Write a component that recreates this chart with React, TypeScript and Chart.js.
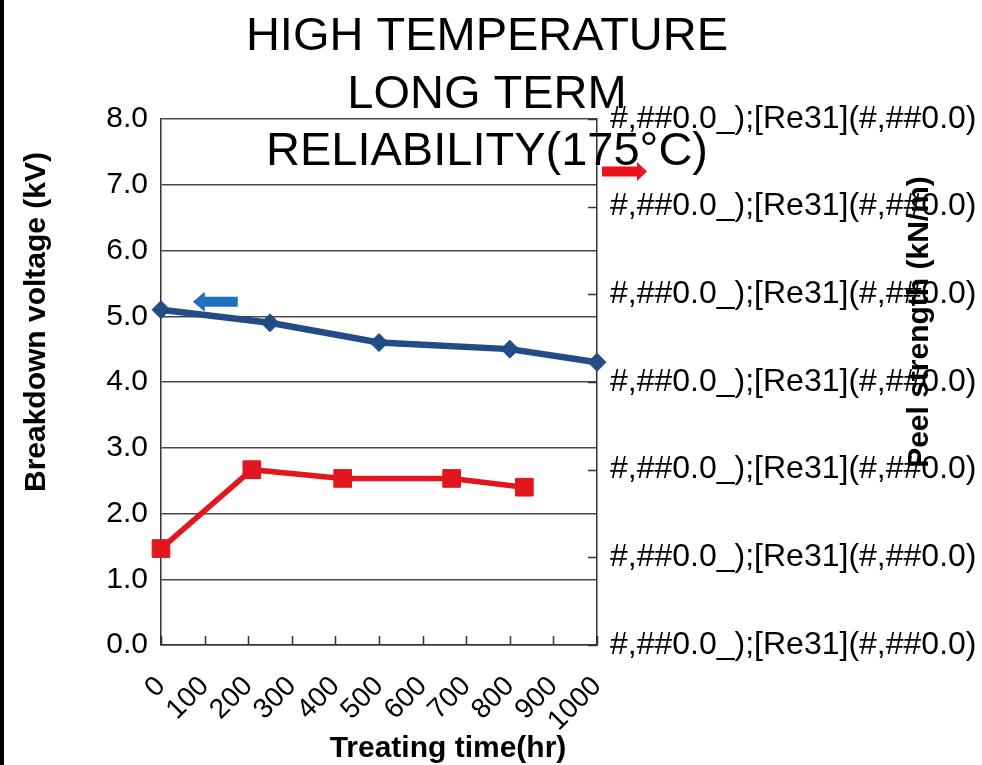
import { useEffect, useRef } from 'react';
import { Chart, registerables } from 'chart.js';

Chart.register(...registerables);

// Breakdown voltage vs. treating time (left axis)
const voltageHours = [0, 250, 500, 800, 1000];
const breakdownKV = [5.1, 4.9, 4.6, 4.5, 4.3];

// Peel strength vs. treating time (right axis, own hidden time axis)
const peelHours = [0, 250, 500, 800, 1000];
const peelKNm = [0.55, 1.0, 0.95, 0.95, 0.9];

const timeTicks = [0, 100, 200, 300, 400, 500, 600, 700, 800, 900, 1000];
const voltageTicks = [0, 1, 2, 3, 4, 5, 6, 7, 8];
const peelTickLabel = '#,##0.0_);[Re31](#,##0.0)';

const titleLines = ['HIGH TEMPERATURE', 'LONG TERM', 'RELIABILITY(175°C)'];
const voltageTitle = 'Breakdown voltage (kV)';
const peelTitle = 'Peel strength (kN/m)';
const timeTitle = 'Treating time(hr)';

const FONT = "'Liberation Sans', Arial, Helvetica, sans-serif";
const BLUE = '#224c86';
const RED = '#e3161e';

function arrow(ctx: CanvasRenderingContext2D, tipX: number, tailX: number, y: number, bodyHalf: number, headHalf: number, headLen: number, color: string) {
  const dir = tailX > tipX ? 1 : -1;
  const baseX = tipX + dir * headLen;
  ctx.beginPath();
  ctx.moveTo(tipX, y);
  ctx.lineTo(baseX, y - headHalf);
  ctx.lineTo(baseX, y - bodyHalf);
  ctx.lineTo(tailX, y - bodyHalf);
  ctx.lineTo(tailX, y + bodyHalf);
  ctx.lineTo(baseX, y + bodyHalf);
  ctx.lineTo(baseX, y + headHalf);
  ctx.closePath();
  ctx.fillStyle = color;
  ctx.fill();
}

const decorations = {
  id: 'decorations',
  beforeDraw(chart: any) {
    const { ctx, width, height } = chart;
    ctx.save();
    ctx.fillStyle = '#ffffff';
    ctx.fillRect(0, 0, width, height);
    ctx.fillStyle = '#000000';
    ctx.fillRect(0, 0, 4, height);
    ctx.restore();
  },
  afterDraw(chart: any) {
    const { ctx, chartArea: a, scales } = chart;
    ctx.save();

    // inward tick marks on the time axis and the peel-strength axis
    ctx.strokeStyle = '#333333';
    ctx.lineWidth = 1.5;
    ctx.beginPath();
    scales.x.ticks.forEach((t: any) => {
      const px = Math.round(scales.x.getPixelForValue(t.value)) + 0.5;
      ctx.moveTo(px, a.bottom);
      ctx.lineTo(px, a.bottom - 9);
    });
    scales.y2.ticks.forEach((t: any) => {
      const py = Math.round(scales.y2.getPixelForValue(t.value)) + 0.5;
      ctx.moveTo(a.right, py);
      ctx.lineTo(a.right - 9, py);
    });
    ctx.stroke();

    // series direction arrows
    const bx = scales.x;
    const by = scales.y;
    arrow(ctx, bx.getPixelForValue(73), bx.getPixelForValue(176), by.getPixelForValue(5.22), 5, 10, 12, '#1e6fc0');
    arrow(ctx, a.right + 50, a.right + 5, by.getPixelForValue(7.2), 5, 9.5, 10, '#e8131b');

    ctx.fillStyle = '#000000';

    // axis titles
    ctx.font = `bold 30px ${FONT}`;
    ctx.textBaseline = 'alphabetic';
    ctx.textAlign = 'center';
    const titleMidY = 322;

    ctx.save();
    ctx.translate(45, titleMidY);
    ctx.rotate(-Math.PI / 2);
    ctx.fillText(voltageTitle, 0, 0);
    ctx.restore();

    ctx.save();
    ctx.translate(928, titleMidY);
    ctx.rotate(-Math.PI / 2);
    ctx.fillText(peelTitle, 0, 0);
    ctx.restore();

    ctx.fillText(timeTitle, 448, 757);

    // chart title
    ctx.font = `47px ${FONT}`;
    titleLines.forEach((line, i) => {
      ctx.fillText(line, 487, 50 + i * 57.5);
    });

    ctx.restore();
  },
};

export default function App() {
  const canvasRef = useRef<HTMLCanvasElement | null>(null);

  useEffect(() => {
    const canvas = canvasRef.current;
    if (!canvas) return;

    const chart = new Chart(canvas, {
      type: 'line',
      data: {
        datasets: [
          {
            label: voltageTitle,
            data: voltageHours.map((h, i) => ({ x: h, y: breakdownKV[i] })),
            xAxisID: 'x',
            yAxisID: 'y',
            borderColor: BLUE,
            backgroundColor: BLUE,
            borderWidth: 6.5,
            pointStyle: 'rectRot',
            pointRadius: 9,
            pointBackgroundColor: BLUE,
            pointBorderColor: BLUE,
            pointBorderWidth: 1,
            tension: 0,
            clip: false as any,
          },
          {
            label: peelTitle,
            data: peelHours.map((h, i) => ({ x: h, y: peelKNm[i] })),
            xAxisID: 'x2',
            yAxisID: 'y2',
            borderColor: RED,
            backgroundColor: RED,
            borderWidth: 5.5,
            pointStyle: 'rect',
            pointRadius: 12.5,
            pointBackgroundColor: RED,
            pointBorderColor: RED,
            pointBorderWidth: 1,
            tension: 0,
            clip: false as any,
          },
        ],
      },
      options: {
        responsive: false,
        animation: false,
        devicePixelRatio: 1,
        layout: { padding: { top: 119, left: 0, right: 0, bottom: 0 } },
        plugins: {
          legend: { display: false },
          title: { display: false },
          tooltip: { enabled: false },
        },
        scales: {
          x: {
            type: 'linear',
            position: 'bottom',
            min: 0,
            max: 1000,
            afterBuildTicks: (s: any) => {
              s.ticks = timeTicks.map((v) => ({ value: v }));
            },
            ticks: {
              autoSkip: false,
              minRotation: 45,
              maxRotation: 45,
              padding: 25,
              color: '#000000',
              font: { family: FONT, size: 28 },
              callback: (v: any) => String(v),
            },
            grid: { display: false, drawTicks: false },
            border: { display: true, color: '#333333', width: 1.5 },
            afterFit: (s: any) => {
              s.height = 120;
            },
          },
          x2: {
            type: 'linear',
            min: 0,
            max: 1200,
            display: false,
          },
          y: {
            type: 'linear',
            position: 'left',
            min: 0,
            max: 8,
            afterBuildTicks: (s: any) => {
              s.ticks = voltageTicks.map((v) => ({ value: v }));
            },
            ticks: {
              padding: 13,
              color: '#000000',
              font: { family: FONT, size: 30 },
              callback: (v: any) => Number(v).toFixed(1),
            },
            grid: { color: '#4a4a4a', lineWidth: 1.5, drawTicks: false },
            border: { display: true, color: '#333333', width: 1.5 },
            afterFit: (s: any) => {
              s.width = 161;
            },
          },
          y2: {
            type: 'linear',
            position: 'right',
            min: 0,
            max: 3,
            ticks: {
              stepSize: 0.5,
              padding: 13,
              color: '#000000',
              font: { family: FONT, size: 32 },
              callback: () => peelTickLabel,
            },
            grid: { display: false, drawTicks: false },
            border: { display: true, color: '#333333', width: 1.5 },
            afterFit: (s: any) => {
              s.width = 385;
            },
          },
        },
      } as any,
      plugins: [decorations],
    });

    return () => chart.destroy();
  }, []);

  return (
    <div style={{ position: 'absolute', left: 0, top: 0, width: 982, height: 765 }}>
      <canvas ref={canvasRef} width={982} height={765} style={{ display: 'block' }} />
    </div>
  );
}
